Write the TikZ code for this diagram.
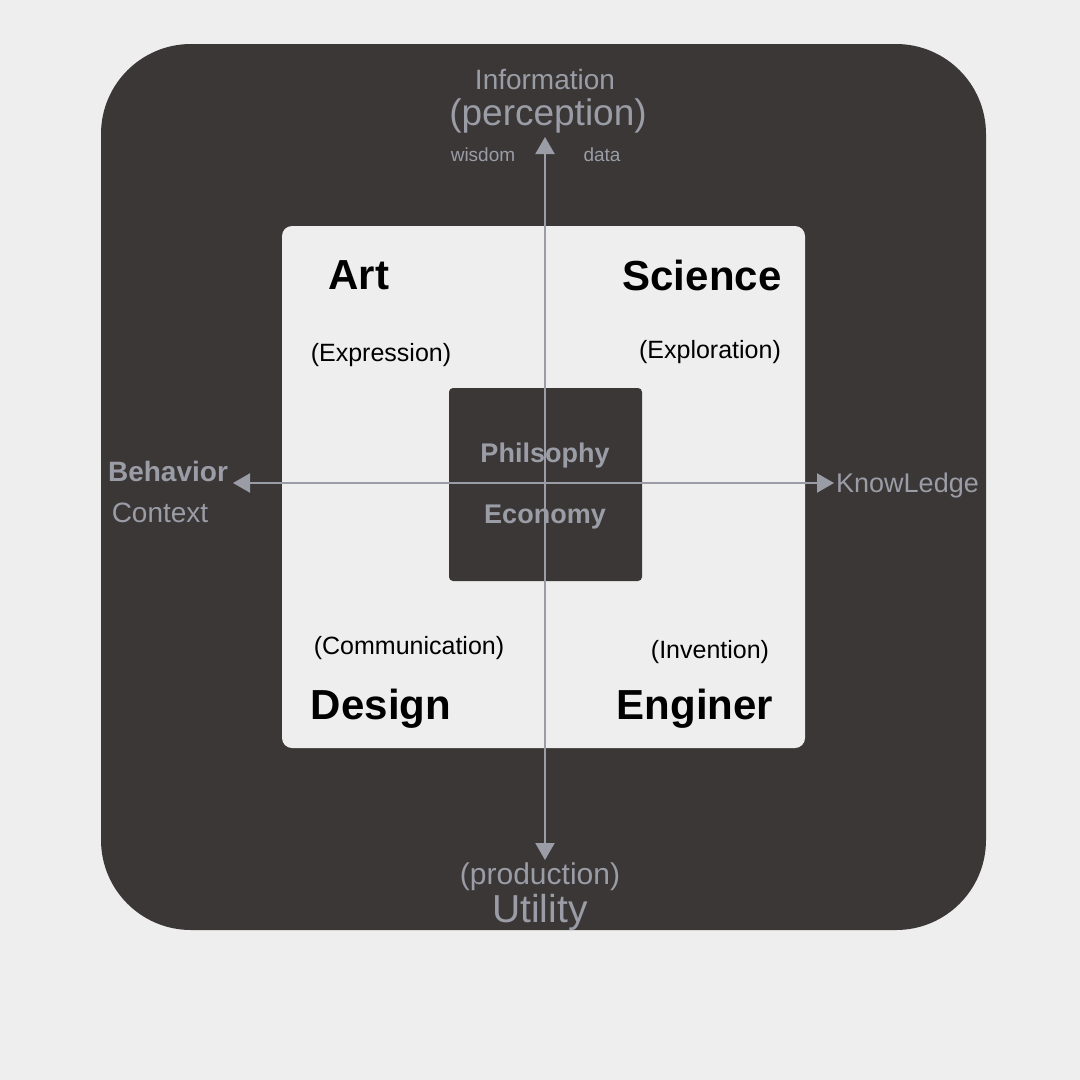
\documentclass[tikz,border=0pt]{standalone}
\usepackage{fontspec}
\setmainfont{Liberation Sans}
\usetikzlibrary{arrows.meta}
\definecolor{pagebg}{HTML}{EEEEEE}
\definecolor{darkbox}{HTML}{3B3736}
\definecolor{axisgray}{HTML}{9A9CA6}
\begin{document}
\begin{tikzpicture}[x=1pt,y=-1pt,
    axis/.style={draw=axisgray, line width=2.2pt, {Triangle[length=17pt,width=19pt]}-{Triangle[length=17pt,width=19pt]}},
    field/.style={font=\fontsize{42}{42}\selectfont\bfseries, text=black, inner sep=0pt},
    role/.style={font=\fontsize{25}{25}\selectfont, text=black, inner sep=0pt},
    axislabel/.style={text=axisgray, inner sep=0pt}]
        % Background
        \fill[pagebg] (0,0) rectangle (1080,1080);
        \fill[darkbox, rounded corners=90pt] (101,44) rectangle (986,930);
        \fill[pagebg, rounded corners=10pt] (282,226) rectangle (805,748);
        \fill[darkbox, rounded corners=4pt] (449,388) rectangle (642,581);

        % Axis ends
        \coordinate (top) at (545,137);
        \coordinate (bottom) at (545,860);
        \coordinate (left) at (233,483);
        \coordinate (right) at (834,483);

        % Quadrant labels
        \node (art) [field] at (359,275) {Art};
        \node (science) [field] at (702,275) {Science};
        \node (design) [field] at (381,709) {Design};
        \node (engineer) [field] at (695,709) {Enginer};
        \node (expression) [role] at (381,355) {(Expression)};
        \node (exploration) [role] at (710,352) {(Exploration)};
        \node (communication) [role] at (409,648) {(Communication)};
        \node (invention) [role] at (710,652) {(Invention)};

        % Centre
        \node (philosophy) [axislabel, font=\fontsize{27}{27}\selectfont\bfseries] at (545,456) {Philsophy};
        \node (economy) [axislabel, font=\fontsize{27}{27}\selectfont\bfseries] at (545,517) {Economy};

        % Arrows
        \draw[axis] (bottom) -- (top);
        \draw[axis] (left) -- (right);

        % Axis labels
        \node (information) [axislabel, font=\fontsize{28}{28}\selectfont] at (545,79) {Information};
        \node (perception) [axislabel, font=\fontsize{37}{37}\selectfont] at (548,116) {(perception)};
        \node (wisdom) [axislabel, font=\fontsize{19}{19}\selectfont] at (483,155) {wisdom};
        \node (data) [axislabel, font=\fontsize{19}{19}\selectfont] at (602,155) {data};
        \node (behavior) [axislabel, font=\fontsize{28}{28}\selectfont\bfseries] at (168,471) {Behavior};
        \node (context) [axislabel, font=\fontsize{28}{28}\selectfont] at (160,513) {Context};
        \node (knowledge) [axislabel, font=\fontsize{27}{27}\selectfont, anchor=west] at (836,486) {KnowLedge};
        \node (production) [axislabel, font=\fontsize{30}{30}\selectfont] at (540,877) {(production)};
        \node (utility) [axislabel, font=\fontsize{39}{39}\selectfont] at (540,912) {Utility};
    \end{tikzpicture}
\end{document}
